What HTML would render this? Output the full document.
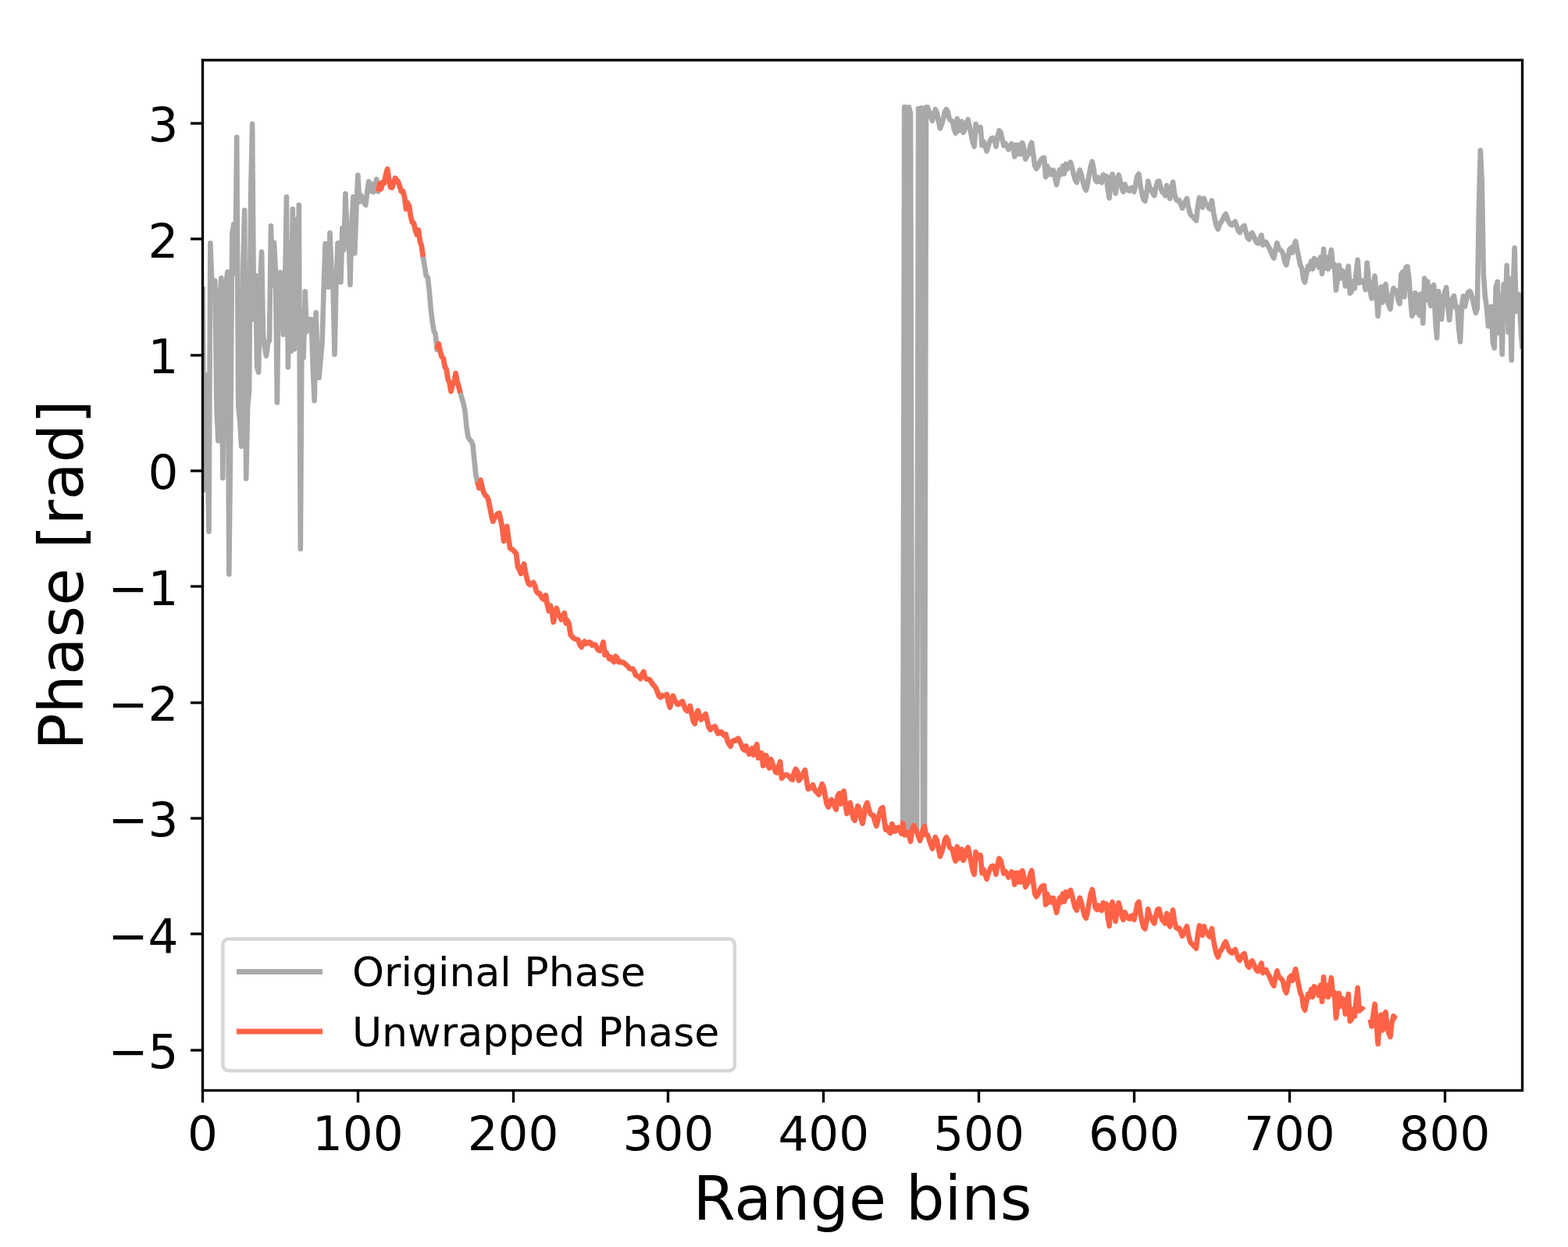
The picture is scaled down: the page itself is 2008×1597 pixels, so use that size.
<!DOCTYPE html>
<html lang="en"><head><meta charset="utf-8"><title>Phase vs Range bins</title>
<style>html,body{margin:0;padding:0;background:#fff}svg{display:block}text{font-family:"DejaVu Sans","Liberation Sans",sans-serif;fill:#000}</style>
</head><body>
<svg width="2008" height="1597" viewBox="0 0 2008 1597">
<rect width="2008" height="1597" fill="#fff"/>
<defs><clipPath id="ax"><rect x="259.5" y="77.0" width="1690.0" height="1319.5"/></clipPath></defs>
<g clip-path="url(#ax)" fill="none" stroke-width="6.6" stroke-linejoin="round" stroke-linecap="butt">
<polyline stroke="#a9a9a9" points="259.5,367.0 261.5,627.4 263.5,480.0 265.5,560.0 267.5,680.7 269.4,311.3 271.4,364.0 273.4,362.0 275.4,359.5 277.4,520.0 279.4,564.4 281.4,383.0 283.4,356.0 285.3,612.3 287.3,385.0 289.3,365.0 291.3,348.3 293.3,735.5 295.3,550.0 297.3,300.0 299.3,287.0 301.3,350.0 303.2,175.7 305.2,520.0 307.2,540.0 309.2,571.6 311.2,345.0 313.2,269.4 315.2,612.9 317.2,520.0 319.1,500.0 321.1,251.0 323.1,158.8 325.1,409.0 327.1,352.7 329.1,470.0 331.1,476.9 333.1,364.0 335.1,322.6 337.0,428.4 339.0,445.0 341.0,455.8 343.0,440.0 345.0,436.0 347.0,289.2 349.0,365.0 351.0,310.7 352.9,346.4 354.9,515.4 356.9,350.0 358.9,348.9 360.9,351.0 362.9,428.4 364.9,378.0 366.9,252.2 368.9,470.3 370.8,311.0 372.8,450.0 374.8,267.7 376.8,447.2 378.8,281.0 380.8,440.0 382.8,262.5 384.8,702.9 386.7,399.6 388.7,458.0 390.7,373.3 392.7,424.7 394.7,409.0 396.7,409.0 398.7,409.0 400.7,470.0 402.7,513.3 404.6,400.2 406.6,460.0 408.6,483.7 410.6,460.0 412.6,439.0 414.6,370.2 416.6,312.0 418.6,330.0 420.5,367.7 422.5,298.2 424.5,347.6 426.5,366.4 428.5,453.8 430.5,362.7 432.5,311.3 434.5,310.7 436.5,361.4 438.4,292.0 440.4,320.0 442.4,248.0 444.4,300.0 446.4,290.0 448.4,364.6 450.4,285.7 452.4,252.0 454.3,324.4 456.3,267.0 458.3,224.3 460.3,258.5 462.3,250.0 464.3,256.0 466.3,260.0 468.3,262.6 470.3,245.0 472.2,232.5 474.2,245.0 476.2,235.5 478.2,246.0 480.2,244.0 482.2,229.5 484.2,245.3 486.2,234.9 488.1,241.8 490.1,233.4 492.1,234.4 494.1,223.9 496.1,216.5 498.1,229.9 500.1,239.8 502.1,240.2 506.0,228.2 510.0,232.9 514.0,245.3 516.0,244.8 518.0,251.8 520.0,267.7 521.9,259.8 523.9,263.7 525.9,276.7 527.9,284.7 529.9,285.7 531.9,294.6 533.9,300.6 535.9,294.6 537.9,309.6 539.8,314.5 541.8,329.0 543.8,340.9 545.8,353.4 547.8,355.4 549.8,372.8 551.8,396.7 553.8,412.6 555.7,424.1 557.7,428.1 559.7,447.9 561.7,440.1 563.7,449.9 565.7,456.9 567.7,458.9 569.7,469.8 571.7,472.8 573.6,485.8 575.6,489.8 577.6,501.1 579.6,491.8 581.6,489.8 583.6,478.1 585.6,488.8 587.6,495.7 589.5,503.2 591.5,509.7 593.5,516.7 595.5,526.1 597.5,547.5 599.5,559.5 601.5,563.0 603.5,565.0 605.5,570.0 607.4,588.9 609.4,608.8 611.4,617.0 613.4,625.0 615.4,614.8 617.4,623.7 619.4,630.7 621.4,634.2 623.3,635.7 625.3,639.7 627.3,649.6 629.3,659.6 631.3,667.8 633.3,663.6 635.3,660.1 637.3,658.1 639.3,657.2 641.2,665.6 643.2,676.0 645.2,692.9 647.2,684.5 649.2,674.1 651.2,689.5 653.2,702.0 655.2,703.1 657.1,704.5 659.1,706.7 661.1,709.1 663.1,725.9 665.1,729.8 667.1,734.6 669.1,725.9 671.1,722.3 673.1,733.8 675.0,741.8 677.0,747.7 679.0,749.2 681.0,747.7 683.0,746.0 685.0,749.7 687.0,757.7 689.0,759.6 690.9,759.7 692.9,763.7 694.9,766.7 696.9,768.0 698.9,762.3 700.9,774.6 702.9,782.5 704.9,775.6 706.9,783.6 708.8,796.7 710.8,785.6 712.8,778.9 714.8,785.6 716.8,789.6 718.8,793.4 720.8,789.6 722.8,785.2 724.7,797.9 726.7,794.5 728.7,799.5 730.7,812.9 732.7,815.4 734.7,817.4 736.7,818.4 738.7,818.9 740.7,819.9 742.6,825.9 744.6,828.7 746.6,823.9 748.6,821.5 750.6,824.4 752.6,823.9 754.6,822.3 756.6,823.4 758.5,826.4 760.5,825.4 762.5,825.9 764.5,829.8 766.5,832.8 768.5,833.3 770.5,829.8 772.5,822.3 774.5,838.7 776.4,835.8 778.4,839.8 780.4,843.8 782.4,841.8 784.4,845.8 786.4,847.7 788.4,840.4 790.4,842.8 792.3,847.8 794.3,846.8 796.3,848.3 798.3,848.3 800.3,849.8 802.3,851.8 804.3,853.7 806.3,856.2 808.3,856.5 810.2,856.5 812.2,859.7 814.2,864.7 816.2,865.7 818.2,866.7 820.2,869.1 822.2,863.7 824.2,860.3 826.1,867.7 828.1,869.7 830.1,869.7 832.1,870.7 834.1,873.7 836.1,876.7 838.1,878.6 840.1,881.6 842.1,886.6 844.0,891.6 846.0,893.0 848.0,890.6 850.0,891.1 852.0,890.6 854.0,889.2 856.0,899.6 858.0,905.9 859.9,895.6 861.9,891.2 863.9,896.6 865.9,899.6 867.9,902.1 869.9,901.6 871.9,899.6 873.9,898.2 875.9,903.5 877.8,908.5 879.8,910.5 881.8,909.5 883.8,904.1 885.8,914.5 887.8,923.5 889.8,926.9 891.8,914.5 893.7,910.1 895.7,916.5 897.7,921.5 899.7,919.5 901.7,916.5 903.7,914.6 905.7,923.5 907.7,931.4 909.7,934.4 911.6,932.4 913.6,931.4 915.6,930.3 917.6,935.4 919.6,939.4 921.6,937.4 923.6,937.3 925.6,939.9 927.5,941.9 929.5,940.5 931.5,948.8 933.5,952.8 935.5,955.7 937.5,949.8 939.5,948.4 941.5,948.8 943.5,946.9 945.4,945.7 947.4,949.8 949.4,953.8 951.4,958.8 953.4,960.7 955.4,955.4 957.4,960.8 959.4,965.8 961.3,964.8 963.3,958.4 965.3,966.8 967.3,957.8 969.3,953.2 971.3,970.8 973.3,964.8 975.3,964.4 977.3,980.6 979.2,973.7 981.2,967.4 983.2,979.7 985.2,983.6 987.2,972.4 989.2,977.7 991.2,982.7 993.2,988.7 995.1,989.6 997.1,981.7 999.1,975.6 1001.1,996.6 1003.1,993.7 1005.1,992.7 1007.1,992.3 1009.1,993.2 1011.1,994.7 1013.0,997.6 1015.0,998.5 1017.0,989.7 1019.0,985.0 1021.0,987.7 1023.0,999.5 1025.0,996.7 1027.0,994.7 1028.9,989.7 1030.9,986.3 1032.9,999.6 1034.9,1010.5 1036.9,1009.6 1038.9,1008.6 1040.9,1005.2 1042.9,1010.6 1044.9,1013.6 1046.8,1015.6 1048.8,1017.7 1050.8,1009.6 1052.8,1004.2 1054.8,1008.6 1056.8,1019.6 1058.8,1029.5 1060.8,1033.6 1062.7,1028.5 1064.7,1024.1 1066.7,1026.5 1068.7,1032.5 1070.7,1036.7 1072.7,1019.6 1074.7,1016.2 1076.7,1029.5 1078.7,1015.6 1080.6,1013.2 1082.6,1029.5 1084.6,1041.9 1086.6,1029.5 1088.6,1028.1 1090.6,1037.5 1092.6,1047.5 1094.6,1050.8 1096.5,1039.5 1098.5,1032.1 1100.5,1035.8 1102.5,1047.7 1104.5,1054.6 1106.5,1043.7 1108.5,1032.8 1110.5,1028.1 1112.5,1035.8 1114.4,1041.8 1116.4,1043.7 1118.4,1044.2 1120.4,1051.7 1122.4,1057.8 1124.4,1049.7 1126.4,1041.8 1128.4,1035.8 1130.3,1034.2 1132.3,1049.7 1134.3,1062.6 1136.3,1059.7 1138.3,1064.7 1140.3,1066.9 1142.3,1055.3 1144.3,1059.7 1146.3,1064.6 1148.2,1060.7 1150.2,1059.7 1152.2,1062.7 1154.2,1067.5 1156.2,1054.1 1158.2,137.1 1160.2,137.3 1162.2,1065.8 1164.1,137.4 1166.1,145.5 1168.1,1061.7 1170.1,1057.3 1172.1,1060.7 1174.1,1065.7 1176.1,139.0 1178.1,144.5 1180.1,138.2 1182.0,1061.7 1184.0,1058.0 1186.0,137.3 1188.0,137.4 1190.0,143.4 1192.0,149.4 1194.0,154.6 1196.0,145.4 1197.9,140.0 1199.9,144.4 1201.9,155.4 1203.9,164.5 1205.9,159.4 1207.9,152.4 1209.9,143.4 1211.9,140.0 1213.9,143.4 1215.8,152.4 1217.8,154.4 1219.8,155.4 1221.8,165.3 1223.8,170.5 1225.8,152.0 1227.8,167.2 1229.8,162.3 1231.7,155.5 1233.7,169.7 1235.7,165.3 1237.7,157.4 1239.7,153.0 1241.7,162.3 1243.7,172.3 1245.7,182.3 1247.7,187.6 1249.6,158.8 1251.6,167.3 1253.6,163.3 1255.6,162.9 1257.6,186.1 1259.6,181.3 1261.6,187.2 1263.6,193.6 1265.5,187.2 1267.5,181.3 1269.5,177.3 1271.5,176.6 1273.5,179.3 1275.5,187.6 1277.5,175.3 1279.5,167.2 1281.5,169.6 1283.4,177.6 1285.4,186.5 1287.4,183.6 1289.4,186.6 1291.4,191.4 1293.4,187.6 1295.4,184.2 1297.4,187.6 1299.3,200.6 1301.3,185.6 1303.3,197.5 1305.3,185.6 1307.3,197.5 1309.3,182.9 1311.3,191.5 1313.3,203.7 1315.3,199.5 1317.2,197.5 1319.2,187.6 1321.2,182.7 1323.2,197.5 1325.2,212.5 1327.2,216.1 1329.2,213.5 1331.2,208.5 1333.1,204.5 1335.1,202.5 1337.1,201.9 1339.1,226.6 1341.1,212.5 1343.1,223.4 1345.1,217.4 1347.1,223.4 1349.1,218.0 1351.0,227.4 1353.0,236.6 1355.0,227.4 1357.0,217.4 1359.0,223.4 1361.0,212.5 1363.0,222.4 1365.0,210.1 1366.9,216.4 1368.9,210.5 1370.9,207.8 1372.9,214.5 1374.9,223.4 1376.9,230.4 1378.9,233.6 1380.9,223.4 1382.9,217.7 1384.8,223.4 1386.8,232.4 1388.8,240.3 1390.8,243.7 1392.8,235.4 1394.8,223.4 1396.8,212.5 1398.8,206.9 1400.7,217.4 1402.7,230.4 1404.7,232.8 1406.7,227.4 1408.7,232.4 1410.7,233.8 1412.7,223.8 1414.7,229.4 1416.7,225.4 1418.6,242.3 1420.6,253.7 1422.6,227.4 1424.6,223.0 1426.6,237.4 1428.6,247.7 1430.6,232.4 1432.6,224.0 1434.5,231.4 1436.5,240.3 1438.5,245.7 1440.5,236.0 1442.5,240.3 1444.5,243.3 1446.5,244.5 1448.5,240.8 1450.5,240.3 1452.4,245.7 1454.4,235.4 1456.4,225.4 1458.4,222.8 1460.4,237.6 1462.4,247.6 1464.4,255.5 1466.4,257.4 1468.3,247.6 1470.3,232.0 1472.3,240.6 1474.3,242.6 1476.3,247.6 1478.3,250.4 1480.3,239.6 1482.3,232.6 1484.3,231.9 1486.2,239.6 1488.2,245.6 1490.2,247.6 1492.2,250.4 1494.2,237.6 1496.2,249.6 1498.2,254.4 1500.2,241.6 1502.1,233.2 1504.1,247.6 1506.1,255.5 1508.1,257.2 1510.1,256.5 1512.1,261.5 1514.1,266.6 1516.1,262.5 1518.1,257.5 1520.0,254.1 1522.0,265.5 1524.0,273.5 1526.0,276.4 1528.0,277.9 1530.0,280.4 1532.0,282.5 1534.0,263.5 1535.9,253.1 1537.9,261.5 1539.9,265.7 1541.9,254.1 1543.9,260.5 1545.9,262.0 1547.9,266.5 1549.9,267.7 1551.9,256.9 1553.8,270.5 1555.8,281.4 1557.8,289.4 1559.8,293.6 1561.8,287.4 1563.8,284.4 1565.8,281.4 1567.8,276.4 1569.7,273.9 1571.7,279.4 1573.7,284.4 1575.7,287.4 1577.7,288.3 1579.7,285.4 1581.7,283.7 1583.7,289.4 1585.7,295.4 1587.6,297.8 1589.6,293.4 1591.6,290.4 1593.6,289.0 1595.6,297.4 1597.6,304.3 1599.6,306.5 1601.6,300.3 1603.5,298.2 1605.5,302.3 1607.5,307.3 1609.5,310.8 1611.5,311.7 1613.5,305.3 1615.5,301.2 1617.5,313.7 1619.5,311.3 1621.4,309.9 1623.4,314.3 1625.4,317.3 1627.4,322.3 1629.4,327.2 1631.4,330.4 1633.4,319.6 1635.4,311.1 1637.3,317.6 1639.3,320.1 1641.3,321.6 1643.3,325.6 1645.3,335.5 1647.3,339.4 1649.3,329.6 1651.3,319.6 1653.3,317.6 1655.2,323.6 1657.2,314.6 1659.2,309.0 1661.2,319.6 1663.2,329.6 1665.2,339.5 1667.2,343.5 1669.2,357.4 1671.1,361.5 1673.1,350.5 1675.1,340.6 1677.1,344.5 1679.1,334.6 1681.1,344.5 1683.1,331.1 1685.1,339.5 1687.1,333.5 1689.0,342.5 1691.0,329.6 1693.0,350.6 1695.0,319.0 1697.0,343.5 1699.0,329.6 1701.0,344.6 1703.0,331.5 1704.9,320.0 1706.9,341.5 1708.9,338.6 1710.9,371.6 1712.9,356.4 1714.9,339.9 1716.9,356.4 1718.9,346.5 1720.9,349.5 1722.8,366.5 1724.8,350.5 1726.8,340.8 1728.8,375.6 1730.8,373.4 1732.8,360.4 1734.8,369.4 1736.8,348.5 1738.7,332.9 1740.7,362.4 1742.7,358.9 1744.7,359.4 1746.7,361.4 1748.7,371.1 1750.7,336.5 1752.7,357.4 1754.7,373.4 1756.6,382.3 1758.6,367.4 1760.6,353.6 1762.6,377.4 1764.6,404.7 1766.6,377.4 1768.6,367.3 1770.6,387.3 1772.5,368.4 1774.5,364.0 1776.5,382.3 1778.5,391.3 1780.5,395.7 1782.5,377.4 1784.5,369.0 1786.5,371.4 1788.5,372.4 1790.4,383.8 1792.4,389.0 1794.4,351.5 1796.4,348.2 1798.4,380.2 1800.4,342.5 1802.4,341.4 1804.4,356.9 1806.3,383.8 1808.3,404.7 1810.3,387.4 1812.3,375.1 1814.3,400.4 1816.3,377.5 1818.3,404.0 1820.3,376.2 1822.3,413.8 1824.2,356.6 1826.2,384.2 1828.2,360.5 1830.2,383.8 1832.2,391.6 1834.2,367.6 1836.2,365.0 1838.2,410.7 1840.1,432.6 1842.1,373.0 1844.1,407.5 1846.1,408.6 1848.1,380.2 1850.1,374.8 1852.1,368.1 1854.1,392.7 1856.1,409.8 1858.0,392.7 1860.0,382.0 1862.0,378.9 1864.0,393.6 1866.0,392.7 1868.0,419.6 1870.0,437.7 1872.0,392.7 1873.9,379.3 1875.9,392.7 1877.9,383.8 1879.9,374.8 1881.9,373.0 1883.9,375.7 1885.9,383.8 1887.9,392.7 1889.9,400.8 1891.8,395.0 1893.8,270.0 1895.8,192.5 1897.8,234.0 1899.8,350.6 1901.8,379.0 1903.8,393.0 1905.8,417.6 1907.7,398.1 1909.7,392.7 1911.7,437.6 1913.7,445.6 1915.7,367.6 1917.7,360.9 1919.7,426.4 1921.7,378.4 1923.7,453.7 1925.6,364.1 1927.6,404.0 1929.6,340.1 1931.6,425.5 1933.6,356.9 1935.6,461.3 1937.6,374.8 1939.6,317.5 1941.5,398.6 1943.5,376.6 1945.5,377.5 1947.5,419.6 1949.5,446.5"/>
<polyline stroke="#ff6347" points="484.2,245.3 486.2,234.9 488.1,241.8 490.1,233.4 492.1,234.4 494.1,223.9 496.1,216.5 498.1,229.9 500.1,239.8 502.1,240.2 506.0,228.2 510.0,232.9 514.0,245.3 516.0,244.8 518.0,251.8 520.0,267.7 521.9,259.8 523.9,263.7 525.9,276.7 527.9,284.7 529.9,285.7 531.9,294.6 533.9,300.6 535.9,294.6 537.9,309.6 539.8,314.5 541.8,329.0"/>
<polyline stroke="#ff6347" points="559.7,447.9 561.7,440.1 563.7,449.9 565.7,456.9 567.7,458.9 569.7,469.8 571.7,472.8 573.6,485.8 575.6,489.8 577.6,501.1 579.6,491.8 581.6,489.8 583.6,478.1 585.6,488.8 587.6,495.7 589.5,503.2"/>
<polyline stroke="#ff6347" points="611.4,617.0 613.4,625.0 615.4,614.8 617.4,623.7 619.4,630.7 621.4,634.2 623.3,635.7 625.3,639.7 627.3,649.6 629.3,659.6 631.3,667.8 633.3,663.6 635.3,660.1 637.3,658.1 639.3,657.2 641.2,665.6 643.2,676.0 645.2,692.9 647.2,684.5 649.2,674.1 651.2,689.5 653.2,702.0 655.2,703.1 657.1,704.5 659.1,706.7 661.1,709.1 663.1,725.9 665.1,729.8 667.1,734.6 669.1,725.9 671.1,722.3 673.1,733.8 675.0,741.8 677.0,747.7 679.0,749.2 681.0,747.7 683.0,746.0 685.0,749.7 687.0,757.7 689.0,759.6 690.9,759.7 692.9,763.7 694.9,766.7 696.9,768.0 698.9,762.3 700.9,774.6 702.9,782.5 704.9,775.6 706.9,783.6 708.8,796.7 710.8,785.6 712.8,778.9 714.8,785.6 716.8,789.6 718.8,793.4 720.8,789.6 722.8,785.2 724.7,797.9 726.7,794.5 728.7,799.5 730.7,812.9 732.7,815.4 734.7,817.4 736.7,818.4 738.7,818.9 740.7,819.9 742.6,825.9 744.6,828.7 746.6,823.9 748.6,821.5 750.6,824.4 752.6,823.9 754.6,822.3 756.6,823.4 758.5,826.4 760.5,825.4 762.5,825.9 764.5,829.8 766.5,832.8 768.5,833.3 770.5,829.8 772.5,822.3 774.5,838.7 776.4,835.8 778.4,839.8 780.4,843.8 782.4,841.8 784.4,845.8 786.4,847.7 788.4,840.4 790.4,842.8 792.3,847.8 794.3,846.8 796.3,848.3 798.3,848.3 800.3,849.8 802.3,851.8 804.3,853.7 806.3,856.2 808.3,856.5 810.2,856.5 812.2,859.7 814.2,864.7 816.2,865.7 818.2,866.7 820.2,869.1 822.2,863.7 824.2,860.3 826.1,867.7 828.1,869.7 830.1,869.7 832.1,870.7 834.1,873.7 836.1,876.7 838.1,878.6 840.1,881.6 842.1,886.6 844.0,891.6 846.0,893.0 848.0,890.6 850.0,891.1 852.0,890.6 854.0,889.2 856.0,899.6 858.0,905.9 859.9,895.6 861.9,891.2 863.9,896.6 865.9,899.6 867.9,902.1 869.9,901.6 871.9,899.6 873.9,898.2 875.9,903.5 877.8,908.5 879.8,910.5 881.8,909.5 883.8,904.1 885.8,914.5 887.8,923.5 889.8,926.9 891.8,914.5 893.7,910.1 895.7,916.5 897.7,921.5 899.7,919.5 901.7,916.5 903.7,914.6 905.7,923.5 907.7,931.4 909.7,934.4 911.6,932.4 913.6,931.4 915.6,930.3 917.6,935.4 919.6,939.4 921.6,937.4 923.6,937.3 925.6,939.9 927.5,941.9 929.5,940.5 931.5,948.8 933.5,952.8 935.5,955.7 937.5,949.8 939.5,948.4 941.5,948.8 943.5,946.9 945.4,945.7 947.4,949.8 949.4,953.8 951.4,958.8 953.4,960.7 955.4,955.4 957.4,960.8 959.4,965.8 961.3,964.8 963.3,958.4 965.3,966.8 967.3,957.8 969.3,953.2 971.3,970.8 973.3,964.8 975.3,964.4 977.3,980.6 979.2,973.7 981.2,967.4 983.2,979.7 985.2,983.6 987.2,972.4 989.2,977.7 991.2,982.7 993.2,988.7 995.1,989.6 997.1,981.7 999.1,975.6 1001.1,996.6 1003.1,993.7 1005.1,992.7 1007.1,992.3 1009.1,993.2 1011.1,994.7 1013.0,997.6 1015.0,998.5 1017.0,989.7 1019.0,985.0 1021.0,987.7 1023.0,999.5 1025.0,996.7 1027.0,994.7 1028.9,989.7 1030.9,986.3 1032.9,999.6 1034.9,1010.5 1036.9,1009.6 1038.9,1008.6 1040.9,1005.2 1042.9,1010.6 1044.9,1013.6 1046.8,1015.6 1048.8,1017.7 1050.8,1009.6 1052.8,1004.2 1054.8,1008.6 1056.8,1019.6 1058.8,1029.5 1060.8,1033.6 1062.7,1028.5 1064.7,1024.1 1066.7,1026.5 1068.7,1032.5 1070.7,1036.7 1072.7,1019.6 1074.7,1016.2 1076.7,1029.5 1078.7,1015.6 1080.6,1013.2 1082.6,1029.5 1084.6,1041.9 1086.6,1029.5 1088.6,1028.1 1090.6,1037.5 1092.6,1047.5 1094.6,1050.8 1096.5,1039.5 1098.5,1032.1 1100.5,1035.8 1102.5,1047.7 1104.5,1054.6 1106.5,1043.7 1108.5,1032.8 1110.5,1028.1 1112.5,1035.8 1114.4,1041.8 1116.4,1043.7 1118.4,1044.2 1120.4,1051.7 1122.4,1057.8 1124.4,1049.7 1126.4,1041.8 1128.4,1035.8 1130.3,1034.2 1132.3,1049.7 1134.3,1062.6 1136.3,1059.7 1138.3,1064.7 1140.3,1066.9 1142.3,1055.3 1144.3,1059.7 1146.3,1064.6 1148.2,1060.7 1150.2,1059.7 1152.2,1062.7 1154.2,1067.5 1156.2,1054.1 1158.2,1069.3 1160.2,1069.5 1162.2,1065.8 1164.1,1069.6 1166.1,1077.7 1168.1,1061.7 1170.1,1057.3 1172.1,1060.7 1174.1,1065.7 1176.1,1071.2 1178.1,1076.7 1180.1,1070.4 1182.0,1061.7 1184.0,1058.0 1186.0,1069.5 1188.0,1069.6 1190.0,1075.6 1192.0,1081.6 1194.0,1086.8 1196.0,1077.6 1197.9,1072.2 1199.9,1076.6 1201.9,1087.6 1203.9,1096.7 1205.9,1091.6 1207.9,1084.6 1209.9,1075.6 1211.9,1072.2 1213.9,1075.6 1215.8,1084.6 1217.8,1086.6 1219.8,1087.6 1221.8,1097.5 1223.8,1102.7 1225.8,1084.2 1227.8,1099.4 1229.8,1094.5 1231.7,1087.7 1233.7,1101.9 1235.7,1097.5 1237.7,1089.6 1239.7,1085.2 1241.7,1094.5 1243.7,1104.5 1245.7,1114.5 1247.7,1119.8 1249.6,1091.0 1251.6,1099.5 1253.6,1095.5 1255.6,1095.1 1257.6,1118.3 1259.6,1113.5 1261.6,1119.4 1263.6,1125.8 1265.5,1119.4 1267.5,1113.5 1269.5,1109.5 1271.5,1108.8 1273.5,1111.5 1275.5,1119.8 1277.5,1107.5 1279.5,1099.4 1281.5,1101.8 1283.4,1109.8 1285.4,1118.7 1287.4,1115.8 1289.4,1118.8 1291.4,1123.6 1293.4,1119.8 1295.4,1116.4 1297.4,1119.8 1299.3,1132.8 1301.3,1117.8 1303.3,1129.7 1305.3,1117.8 1307.3,1129.7 1309.3,1115.1 1311.3,1123.7 1313.3,1135.9 1315.3,1131.7 1317.2,1129.7 1319.2,1119.8 1321.2,1114.9 1323.2,1129.7 1325.2,1144.7 1327.2,1148.3 1329.2,1145.7 1331.2,1140.7 1333.1,1136.7 1335.1,1134.7 1337.1,1134.1 1339.1,1158.8 1341.1,1144.7 1343.1,1155.6 1345.1,1149.6 1347.1,1155.6 1349.1,1150.2 1351.0,1159.6 1353.0,1168.8 1355.0,1159.6 1357.0,1149.6 1359.0,1155.6 1361.0,1144.7 1363.0,1154.6 1365.0,1142.3 1366.9,1148.6 1368.9,1142.7 1370.9,1140.0 1372.9,1146.7 1374.9,1155.6 1376.9,1162.6 1378.9,1165.8 1380.9,1155.6 1382.9,1149.9 1384.8,1155.6 1386.8,1164.6 1388.8,1172.5 1390.8,1175.9 1392.8,1167.6 1394.8,1155.6 1396.8,1144.7 1398.8,1139.1 1400.7,1149.6 1402.7,1162.6 1404.7,1165.0 1406.7,1159.6 1408.7,1164.6 1410.7,1166.0 1412.7,1156.0 1414.7,1161.6 1416.7,1157.6 1418.6,1174.5 1420.6,1185.9 1422.6,1159.6 1424.6,1155.2 1426.6,1169.6 1428.6,1179.9 1430.6,1164.6 1432.6,1156.2 1434.5,1163.6 1436.5,1172.5 1438.5,1177.9 1440.5,1168.2 1442.5,1172.5 1444.5,1175.5 1446.5,1176.7 1448.5,1173.0 1450.5,1172.5 1452.4,1177.9 1454.4,1167.6 1456.4,1157.6 1458.4,1155.0 1460.4,1169.8 1462.4,1179.8 1464.4,1187.7 1466.4,1189.6 1468.3,1179.8 1470.3,1164.2 1472.3,1172.8 1474.3,1174.8 1476.3,1179.8 1478.3,1182.6 1480.3,1171.8 1482.3,1164.8 1484.3,1164.1 1486.2,1171.8 1488.2,1177.8 1490.2,1179.8 1492.2,1182.6 1494.2,1169.8 1496.2,1181.8 1498.2,1186.6 1500.2,1173.8 1502.1,1165.4 1504.1,1179.8 1506.1,1187.7 1508.1,1189.4 1510.1,1188.7 1512.1,1193.7 1514.1,1198.8 1516.1,1194.7 1518.1,1189.7 1520.0,1186.3 1522.0,1197.7 1524.0,1205.7 1526.0,1208.6 1528.0,1210.1 1530.0,1212.6 1532.0,1214.7 1534.0,1195.7 1535.9,1185.3 1537.9,1193.7 1539.9,1197.9 1541.9,1186.3 1543.9,1192.7 1545.9,1194.2 1547.9,1198.7 1549.9,1199.9 1551.9,1189.1 1553.8,1202.7 1555.8,1213.6 1557.8,1221.6 1559.8,1225.8 1561.8,1219.6 1563.8,1216.6 1565.8,1213.6 1567.8,1208.6 1569.7,1206.1 1571.7,1211.6 1573.7,1216.6 1575.7,1219.6 1577.7,1220.5 1579.7,1217.6 1581.7,1215.9 1583.7,1221.6 1585.7,1227.6 1587.6,1230.0 1589.6,1225.6 1591.6,1222.6 1593.6,1221.2 1595.6,1229.6 1597.6,1236.5 1599.6,1238.7 1601.6,1232.5 1603.5,1230.4 1605.5,1234.5 1607.5,1239.5 1609.5,1243.0 1611.5,1243.9 1613.5,1237.5 1615.5,1233.4 1617.5,1245.9 1619.5,1243.5 1621.4,1242.1 1623.4,1246.5 1625.4,1249.5 1627.4,1254.5 1629.4,1259.4 1631.4,1262.6 1633.4,1251.8 1635.4,1243.3 1637.3,1249.8 1639.3,1252.3 1641.3,1253.8 1643.3,1257.8 1645.3,1267.7 1647.3,1271.6 1649.3,1261.8 1651.3,1251.8 1653.3,1249.8 1655.2,1255.8 1657.2,1246.8 1659.2,1241.2 1661.2,1251.8 1663.2,1261.8 1665.2,1271.7 1667.2,1275.7 1669.2,1289.6 1671.1,1293.7 1673.1,1282.7 1675.1,1272.8 1677.1,1276.7 1679.1,1266.8 1681.1,1276.7 1683.1,1263.3 1685.1,1271.7 1687.1,1265.7 1689.0,1274.7 1691.0,1261.8 1693.0,1282.8 1695.0,1251.2 1697.0,1275.7 1699.0,1261.8 1701.0,1276.8 1703.0,1263.7 1704.9,1252.2 1706.9,1273.7 1708.9,1270.8 1710.9,1303.8 1712.9,1288.6 1714.9,1272.1 1716.9,1288.6 1718.9,1278.7 1720.9,1281.7 1722.8,1298.7 1724.8,1282.7 1726.8,1273.0 1728.8,1307.8 1730.8,1305.6 1732.8,1292.6 1734.8,1301.6 1736.8,1280.7 1738.7,1265.1 1740.7,1294.6 1742.7,1291.1 1744.7,1291.6 1746.7,1293.6"/>
<polyline stroke="#ff6347" points="1754.7,1305.6 1756.6,1314.5 1758.6,1299.6 1760.6,1285.8 1762.6,1309.6 1764.6,1336.9 1766.6,1309.6 1768.6,1299.5 1770.6,1319.5 1772.5,1300.6 1774.5,1296.2 1776.5,1314.5 1778.5,1323.5 1780.5,1327.9 1782.5,1309.6 1784.5,1301.2 1786.5,1303.6 1788.5,1304.6"/>
</g>
<rect x="259.50" y="77.00" width="1690.00" height="1319.50" fill="none" stroke="#000" stroke-width="3.33" stroke-linejoin="miter"/>
<g stroke="#000" stroke-width="3.33">
<line x1="259.5" y1="1396.5" x2="259.5" y2="1412.0"/>
<line x1="458.5" y1="1396.5" x2="458.5" y2="1412.0"/>
<line x1="657.5" y1="1396.5" x2="657.5" y2="1412.0"/>
<line x1="855.5" y1="1396.5" x2="855.5" y2="1412.0"/>
<line x1="1054.5" y1="1396.5" x2="1054.5" y2="1412.0"/>
<line x1="1253.5" y1="1396.5" x2="1253.5" y2="1412.0"/>
<line x1="1452.5" y1="1396.5" x2="1452.5" y2="1412.0"/>
<line x1="1651.5" y1="1396.5" x2="1651.5" y2="1412.0"/>
<line x1="1850.5" y1="1396.5" x2="1850.5" y2="1412.0"/>
<line x1="244.0" y1="1345.0" x2="259.5" y2="1345.0"/>
<line x1="244.0" y1="1196.0" x2="259.5" y2="1196.0"/>
<line x1="244.0" y1="1048.0" x2="259.5" y2="1048.0"/>
<line x1="244.0" y1="900.0" x2="259.5" y2="900.0"/>
<line x1="244.0" y1="751.0" x2="259.5" y2="751.0"/>
<line x1="244.0" y1="603.0" x2="259.5" y2="603.0"/>
<line x1="244.0" y1="455.0" x2="259.5" y2="455.0"/>
<line x1="244.0" y1="306.0" x2="259.5" y2="306.0"/>
<line x1="244.0" y1="158.0" x2="259.5" y2="158.0"/>
</g>
<g font-size="61.2" text-anchor="middle">
<text x="259.5" y="1473.0">0</text>
<text x="458.3" y="1473.0">100</text>
<text x="657.1" y="1473.0">200</text>
<text x="856.0" y="1473.0">300</text>
<text x="1054.8" y="1473.0">400</text>
<text x="1253.6" y="1473.0">500</text>
<text x="1452.4" y="1473.0">600</text>
<text x="1651.3" y="1473.0">700</text>
<text x="1850.1" y="1473.0">800</text>
</g>
<g font-size="61.2" text-anchor="end">
<text x="228.5" y="1368.0">−5</text>
<text x="228.5" y="1219.6">−4</text>
<text x="228.5" y="1071.3">−3</text>
<text x="228.5" y="922.9">−2</text>
<text x="228.5" y="774.6">−1</text>
<text x="228.5" y="626.2">0</text>
<text x="228.5" y="477.8">1</text>
<text x="228.5" y="329.5">2</text>
<text x="228.5" y="181.1">3</text>
</g>
<text x="1104.5" y="1562.0" font-size="78.10" text-anchor="middle">Range bins</text>
<text transform="translate(106.0 736.6) rotate(-90)" font-size="78.10" text-anchor="middle">Phase [rad]</text>
<rect x="285.4" y="1202.5" width="655.5" height="168.7" rx="7.2" ry="7.2" fill="#fff" fill-opacity="0.8" stroke="#cccccc" stroke-opacity="0.8" stroke-width="4.35"/>
<line x1="303.0" y1="1244.5" x2="413.0" y2="1244.5" stroke="#a9a9a9" stroke-width="7" stroke-linecap="butt"/>
<line x1="303.0" y1="1321.0" x2="413.0" y2="1321.0" stroke="#ff6347" stroke-width="7" stroke-linecap="butt"/>
<text x="451.0" y="1263.0" font-size="52.08">Original Phase</text>
<text x="451.0" y="1339.5" font-size="52.08">Unwrapped Phase</text>
</svg>
</body></html>
